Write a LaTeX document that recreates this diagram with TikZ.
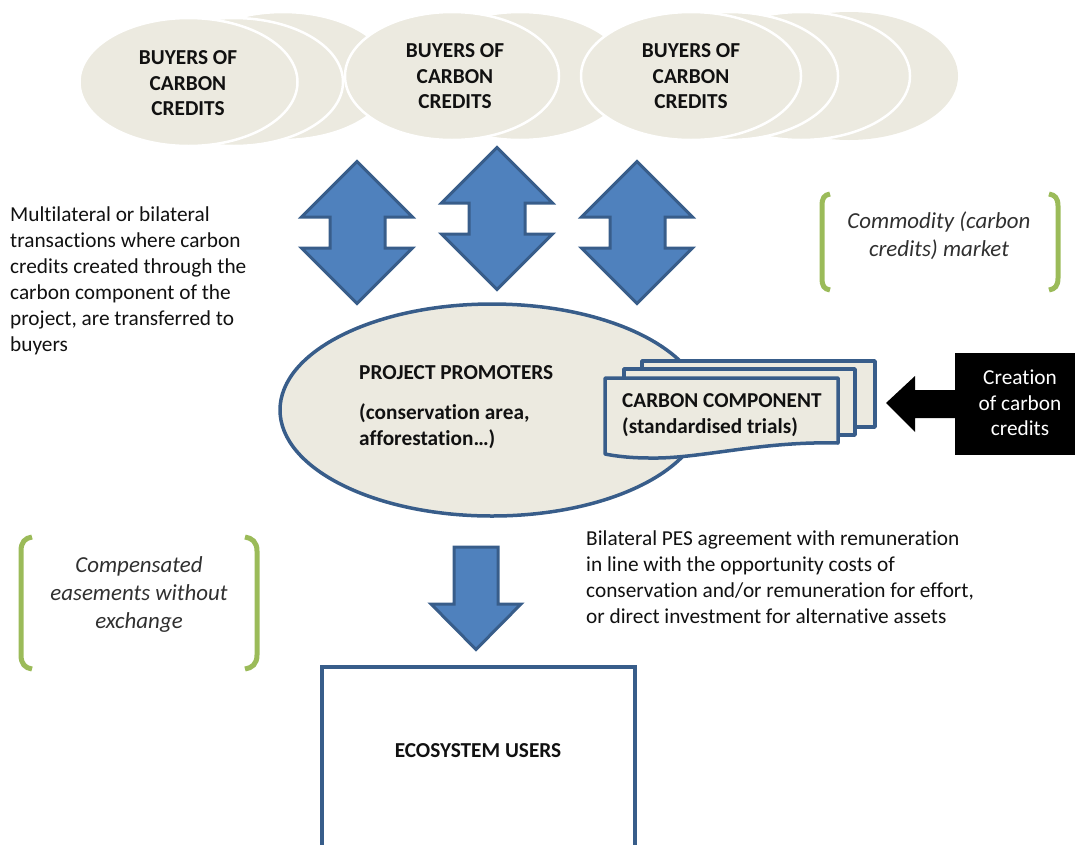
\documentclass[tikz,border=0pt]{standalone}
\usepackage{fontspec}
\setmainfont[Ligatures=NoCommon]{Carlito}
\definecolor{cream}{HTML}{ECEAE0}
\definecolor{bluef}{HTML}{4F81BD}
\definecolor{blued}{HTML}{385D8A}
\definecolor{greenb}{HTML}{9BBB59}
\definecolor{txt}{HTML}{111111}
\definecolor{itxt}{HTML}{303030}
\tikzset{
  buyer/.style={fill=cream,draw=white,line width=2.5pt},
  twoway/.style={fill=bluef,draw=blued,line width=3pt,miter limit=10},
  doc/.style={fill=cream,draw=blued,line width=3.5pt,line join=round},
  bracket/.style={draw=greenb,line width=5pt,line cap=butt},
  btxt/.style={font=\fontsize{21.3}{25.5}\selectfont\bfseries,text=txt,align=center,inner sep=0pt},
  ltxt/.style={font=\fontsize{21.3}{26}\selectfont,text=txt,align=left,inner sep=0pt,anchor=north west},
  itx/.style={font=\fontsize{22.9}{28}\selectfont\itshape,text=itxt,align=center,inner sep=0pt},
}
\begin{document}
\begin{tikzpicture}[x=1pt,y=-1pt]
\useasboundingbox (0,0) rectangle (1075,844);
\clip (0,0) rectangle (1075,844);
% third group backs
\fill[cream] (849,76) ellipse [x radius=109,y radius=64];
\draw[buyer] (801,76) ellipse [x radius=109,y radius=64];
\draw[buyer] (729,76) ellipse [x radius=109,y radius=64];
\draw[buyer] (520,76) ellipse [x radius=109,y radius=64];
\draw[buyer] (283,76) ellipse [x radius=109,y radius=64];
\draw[buyer] (234,82) ellipse [x radius=109,y radius=64];
\draw[buyer] (188.5,82) ellipse [x radius=109,y radius=64];
\draw[buyer] (452,76) ellipse [x radius=107,y radius=64];
\draw[buyer] (691,76) ellipse [x radius=110,y radius=64];
\node[btxt] (b1) at (188,83.5) {BUYERS OF\\CARBON\\CREDITS};
\node[btxt] (b2) at (455,76.5) {BUYERS OF\\CARBON\\CREDITS};
\node[btxt] (b3) at (691,76.5) {BUYERS OF\\CARBON\\CREDITS};
% two-way arrows
\draw[twoway] (357,161.5)--(412.5,217)--(385,217)--(385,248)--(412.5,248)--(357,303.5)--(301.5,248)--(330,248)--(330,217)--(301.5,217)--cycle;
\draw[twoway] (497,147.5)--(552.5,203)--(525,203)--(525,234)--(552.5,234)--(497,289.5)--(441.5,234)--(469,234)--(469,203)--(441.5,203)--cycle;
\draw[twoway] (637,161.5)--(692.5,217)--(665,217)--(665,248)--(692.5,248)--(637,303.5)--(581.5,248)--(610,248)--(610,217)--(581.5,217)--cycle;
% main ellipse
\draw[fill=cream,draw=blued,line width=3.5pt] (492,410) ellipse [x radius=212,y radius=106];
\node[font=\fontsize{21.3}{26}\selectfont\bfseries,text=txt,anchor=west,inner sep=0pt] (pp) at (359,373) {PROJECT PROMOTERS};
\node[font=\fontsize{21.3}{26}\selectfont\bfseries,text=txt,align=left,anchor=north west,inner sep=0pt] (ppd) at (359,403) {(conservation area,\\afforestation…)};
% document stack
\draw[doc] (642,361)--(875,361)--(875,427)--(642,427)--cycle;
\draw[doc] (624,369)--(855,369)--(855,435)--(624,435)--cycle;
\draw[doc] (605,378)--(838,378)--(838,443) .. controls (760,441) and (700,459) .. (650,458) .. controls (630,458) and (615,456) .. (605,454) --cycle;
\node[font=\fontsize{21.2}{26}\selectfont\bfseries,text=txt,align=left,anchor=north west,inner sep=0pt] (cc) at (622,393) {CARBON COMPONENT\\(standardised trials)};
% creation
\fill[black] (955,353) rectangle (1075,455);
\fill[black] (886,403)--(915,376)--(915,390)--(956,390)--(956,418)--(915,418)--(915,432)--cycle;
\node[font=\fontsize{21.3}{25.5}\selectfont,text=white,align=center,inner sep=0pt] (cr) at (1020,403) {Creation\\of carbon\\credits};
% left text
\node[ltxt] (t1) at (10,207) {Multilateral or bilateral\\transactions where carbon\\credits created through the\\carbon component of the\\project, are transferred to\\buyers};
\node[ltxt] (t2) at (586,530) {Bilateral PES agreement with remuneration\\in line with the opportunity costs of\\conservation and/or remuneration for effort,\\or direct investment for alternative assets};
% brackets
\draw[bracket] (830,194) .. controls (824,195) and (822,198) .. (822,206) -- (822,278) .. controls (822,286) and (824,289) .. (830,290);
\draw[bracket] (1049,194) .. controls (1055,195) and (1058,198) .. (1058,206) -- (1058,278) .. controls (1058,286) and (1055,289) .. (1049,290);
\node[itx] (c1) at (939,235.5) {Commodity (carbon\\credits) market};
\draw[bracket] (32,537) .. controls (25,538) and (21,542) .. (21,551) -- (21,655) .. controls (21,664) and (25,668) .. (32,669);
\draw[bracket] (245,537) .. controls (252,538) and (257,542) .. (257,551) -- (257,655) .. controls (257,664) and (252,668) .. (245,669);
\node[itx] (c2) at (139,594) {Compensated\\easements without\\exchange};
% down arrow
\draw[twoway] (454,547)--(498,547)--(498,604)--(521,604)--(476,649.5)--(431,604)--(454,604)--cycle;
% users box
\draw[draw=blued,line width=4pt] (322,860)--(322,667)--(635,667)--(635,860);
\node[font=\fontsize{21.3}{24}\selectfont\bfseries,text=txt,inner sep=0pt] (eu) at (478,751) {ECOSYSTEM USERS};
\end{tikzpicture}
\end{document}
